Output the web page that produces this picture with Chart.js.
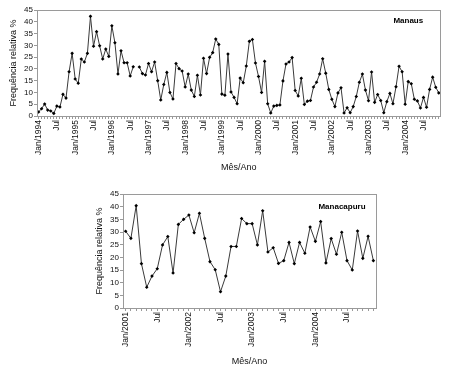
<!DOCTYPE html>
<html><head><meta charset="utf-8">
<script src="https://cdn.jsdelivr.net/npm/chart.js@4/dist/chart.umd.min.js"></script>
<style>
body{margin:0;background:#fff;width:450px;height:371px;overflow:hidden;position:relative}
canvas{position:absolute;left:0}
</style></head><body>
<canvas id="c1" width="450" height="180" style="top:0"></canvas>
<canvas id="c2" width="450" height="191" style="top:180px"></canvas>
<script>
// monthly relative frequency (%)
const months = ['Jan','Fev','Mar','Abr','Mai','Jun','Jul','Ago','Set','Out','Nov','Dez'];
const manausYears = [1994,1995,1996,1997,1998,1999,2000,2001,2002,2003,2004];
const manacapuruYears = [2001,2002,2003,2004];

const manausValues = [
  1.7, 3.1, 5.1, 2.5, 2.1, 1.1, 4.2, 3.8, 9.2, 7.6, 18.8, 26.6,
  15.7, 13.9, 24.2, 22.9, 26.6, 42.3, 29.6, 35.8, 29.8, 24.2, 28.4, 25.3,
  38.3, 31.1, 17.8, 27.7, 22.6, 22.6, 17.0, 20.9, null, 20.8, 18.0, 17.4,
  22.3, 18.8, 22.9, 15.0, 6.8, 13.4, 18.5, 10.0, 7.2, 22.3, 20.1, 19.1,
  12.3, 17.8, 11.0, 8.3, 17.3, 8.9, 24.5, 18.0, 24.9, 26.9, 32.7, 30.4,
  9.3, 8.8, 26.3, 10.2, 7.9, 5.2, 16.1, 14.1, 21.2, 31.7, 32.5, 22.5,
  16.8, 10.0, 23.2, 5.2, 1.3, 4.2, 4.5, 4.7, 14.9, 22.1, 22.9, 24.8,
  10.8, 8.5, 16.0, 4.9, 6.3, 6.6, 12.3, 14.3, 17.8, 24.3, 18.2, 11.3,
  7.1, 4.0, 9.8, 12.0, 1.3, 3.5, 1.4, 4.0, 8.3, 14.3, 17.8, 11.0,
  6.5, 18.7, 5.8, 9.1, 6.6, 1.4, 6.1, 9.6, 5.2, 12.4, 21.1, 18.8,
  5.0, 14.6, 13.7, 7.1, 6.4, 3.4, 7.9, 3.7, 11.3, 16.5, 12.2, 9.8
];
const manacapuruValues = [
  30.3, 27.5, 40.4, 17.5, 8.2, 12.6, 15.5, 24.9, 28.2, 13.8, 33.0, 35.0,
  36.7, 29.7, 37.4, 27.5, 18.3, 15.1, 6.4, 12.6, 24.3, 24.3, 35.3, 33.3,
  33.3, 24.9, 38.4, 22.1, 23.8, 17.6, 18.7, 25.9, 17.5, 25.9, 21.6, 32.0,
  26.3, 34.1, 17.8, 27.4, 21.2, 29.9, 18.7, 15.0, 30.4, 19.6, 28.3, 18.7
];
const yTicks = [0,5,10,15,20,25,30,35,40,45];

const monthLabels = years => years.flatMap(y => months.map(m => m + '/' + y));
// only Jan/yyyy and Jul are printed, as in the original
const tickText = l => l.startsWith('Jan') ? l : (l.startsWith('Jul') ? 'Jul' : '');

const FONT = 'Liberation Sans, Arial, sans-serif';
const GRAY = '#9a9a9a';

const framePlugin = {
  id: 'frame',
  afterDraw(chart, args, opts){
    const {ctx, chartArea:a} = chart;
    ctx.save();
    ctx.strokeStyle = GRAY; ctx.lineWidth = 1;
    ctx.strokeRect(Math.round(a.left)+0.5, Math.round(a.top)+0.5, Math.round(a.right-a.left), Math.round(a.bottom-a.top));
    ctx.fillStyle = '#000';
    ctx.font = 'bold 8px ' + FONT;
    ctx.textAlign = 'center'; ctx.textBaseline = 'middle';
    ctx.fillText(opts.text, a.right - opts.dx, a.top + opts.dy);
    ctx.restore();
  }
};

function makeChart(id, years, values, name, pad, yWidth, xHeight, dx, dy){
  const labels = monthLabels(years);
  return new Chart(document.getElementById(id), {
    type: 'line',
    data: { labels, datasets: [{
      data: values, borderColor: '#3a3a3a', borderWidth: 1, tension: 0, spanGaps: false,
      pointStyle: 'rectRot', pointRadius: 1.8, pointBorderWidth: 0, pointBackgroundColor: '#000'
    }]},
    options: {
      responsive: false, animation: false,
      layout: { padding: pad },
      plugins: { legend: { display: false }, tooltip: { enabled: false },
        frame: { text: name, dx, dy } },
      scales: {
        x: {
          offset: true,
          grid: { drawOnChartArea: false, tickLength: 3, color: GRAY },
          border: { color: GRAY },
          ticks: { autoSkip: false, minRotation: 90, maxRotation: 90, padding: 1, color: '#111',
            font: { family: FONT, size: 8.5 }, callback: (v, i) => tickText(labels[i]) },
          title: { display: true, text: 'Mês/Ano', color: '#111', padding: { top: 4, bottom: 4 },
            font: { family: FONT, size: 9 } },
          afterFit: s => { s.height = xHeight; }
        },
        y: {
          min: 0, max: 45,
          afterBuildTicks: s => { s.ticks = yTicks.map(v => ({ value: v })); },
          grid: { drawOnChartArea: false, tickLength: 3, color: GRAY },
          border: { color: GRAY },
          ticks: { autoSkip: false, padding: 1, color: '#111', font: { family: FONT, size: 8 } },
          title: { display: true, text: 'Frequência relativa %', color: '#111', padding: { top: 4, bottom: 4 },
            font: { family: FONT, size: 9 } },
          afterFit: s => { s.width = yWidth; }
        }
      }
    },
    plugins: [framePlugin]
  });
}

makeChart('c1', manausYears, manausValues, 'Manaus', { left: 4, right: 5, top: 10, bottom: 3 }, 33, 61, 32, 11);
makeChart('c2', manacapuruYears, manacapuruValues, 'Manacapuru', { left: 90, right: 74, top: 14, bottom: 0 }, 33, 63, 34, 13);
</script>
</body></html>
